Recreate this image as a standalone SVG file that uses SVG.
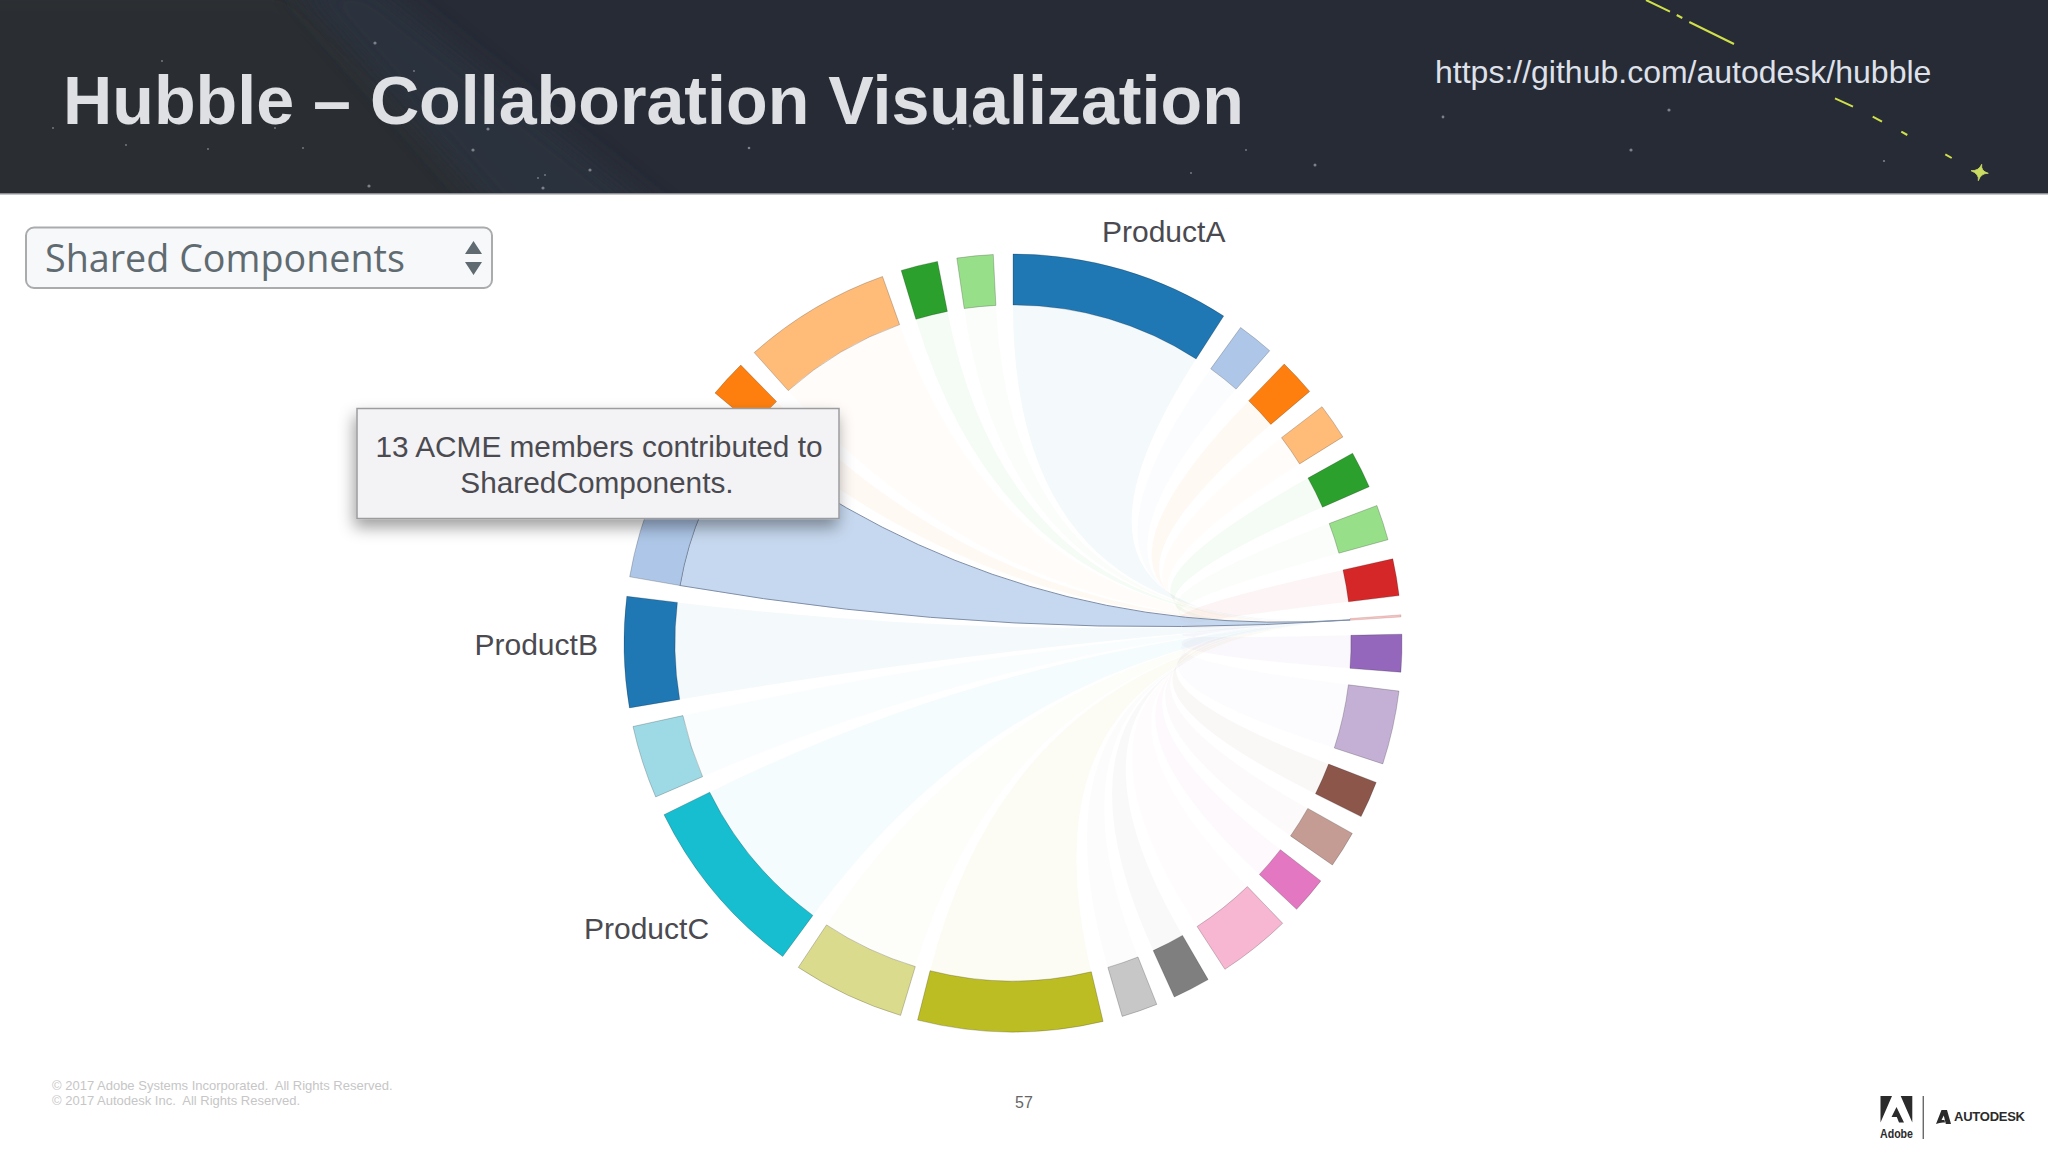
<svg xmlns="http://www.w3.org/2000/svg" width="2048" height="1152" viewBox="0 0 2048 1152">
<style>
text{font-family:"Liberation Sans",Arial,sans-serif}
.lbl{font-size:30px;fill:#4a4a50}
.tip{font-size:29.8px;fill:#4a4a50;text-anchor:middle}
.foot{font-size:13px;fill:#c6c6c6;white-space:pre}
.seg path{stroke:#000;stroke-opacity:.2;stroke-width:1}
.star{fill:#7d818a}
.dash{stroke:#cfe04a;stroke-width:2;fill:none}
#ribbons path{fill-opacity:.048;stroke:none}
#ribbons path.hi{fill-opacity:.7;stroke:#7f8fa8;stroke-width:1}
.c0{fill:#1f77b4}.c1{fill:#aec7e8}.c2{fill:#ff7f0e}.c3{fill:#ffbb78}.c4{fill:#2ca02c}.c5{fill:#98df8a}.c6{fill:#d62728}.c7{fill:#ff9896}.c8{fill:#9467bd}.c9{fill:#c5b0d5}.c10{fill:#8c564b}.c11{fill:#c49c94}.c12{fill:#e377c2}.c13{fill:#f7b6d2}.c14{fill:#7f7f7f}.c15{fill:#c7c7c7}.c16{fill:#bcbd22}.c17{fill:#dbdb8d}.c18{fill:#17becf}.c19{fill:#9edae5}
</style>
<defs>
<filter id="soft" x="-30%" y="-30%" width="160%" height="160%"><feGaussianBlur stdDeviation="14"/></filter>
<filter id="shadow" x="-10%" y="-20%" width="120%" height="150%"><feDropShadow dx="-2" dy="8" stdDeviation="8" flood-color="#000" flood-opacity=".38"/></filter>
<clipPath id="hdr"><rect width="2048" height="193"/></clipPath>
</defs>
<rect width="2048" height="1152" fill="#fff"/>
<g id="header">
<rect width="2048" height="193" fill="#272b35"/>
<rect x="0" y="193" width="2048" height="1.5" fill="#8b8d92"/>
<g clip-path="url(#hdr)">
<polygon points="-40,-20 290,-20 560,230 -40,230" fill="#2b2e33" filter="url(#soft)"/>
<polygon points="290,-20 370,-20 680,230 510,230" fill="#2c323d" filter="url(#soft)"/>
</g>
<g class="star">
<circle cx="375" cy="43" r="1.6"/><circle cx="488" cy="129" r="1.6"/><circle cx="473" cy="150" r="1.6"/><circle cx="369" cy="186" r="1.6"/><circle cx="590" cy="170" r="1.6"/><circle cx="543" cy="188" r="1.6"/>
<circle cx="162" cy="61" r=".9"/><circle cx="53" cy="128" r=".9"/><circle cx="126" cy="145" r=".9"/><circle cx="208" cy="149" r=".9"/><circle cx="303" cy="148" r=".9"/><circle cx="538" cy="178" r=".9"/><circle cx="545" cy="175" r=".9"/><circle cx="275" cy="128" r=".9"/><circle cx="414" cy="71" r=".9"/>
<circle cx="749" cy="148" r="1.3"/><circle cx="970" cy="126" r="1.4"/><circle cx="953" cy="129" r=".9"/><circle cx="1246" cy="150" r=".9"/><circle cx="1315" cy="165" r="1.5"/><circle cx="1191" cy="173" r=".9"/><circle cx="1443" cy="117" r="1.4"/><circle cx="1669" cy="110" r="1.6"/><circle cx="1631" cy="150" r="1.6"/><circle cx="1884" cy="161" r="1.1"/>
</g>
<g class="dash">
<path d="M1646 0L1670 11.7M1676.7 15L1682.3 18M1689.3 22L1734 44M1835 98.3L1853 106.7M1872.7 116.7L1882 121.7M1901.3 131.7L1907.3 135M1945.3 154.3L1951.7 158"/>
</g>
<path id="spark" d="M1981.700 164.300Q1980.500 171 1988.300 173.300Q1981 173 1978.300 180.700Q1979.500 174 1971 170.700Q1979 171 1981.700 164.300Z" fill="#cbdc62" stroke="#cbdc62" stroke-width=".8"/>
<text x="63" y="124" font-size="68.2" font-weight="700" fill="#dfe0e3">Hubble – Collaboration Visualization</text>
<text x="1435" y="83" font-size="32" fill="#dfe1ea">https://github.com/autodesk/hubble</text>
</g>

<g id="select">
<rect x="26" y="227.500" width="466" height="60.500" rx="8" fill="#f7f8fa" stroke="#a9abad" stroke-width="2"/>
<text x="45" y="272" font-size="37.700" fill="#5f6b70" style="font-family:'Open Sans',sans-serif">Shared Components</text>
<path d="M473.500 241L482 254H465ZM473.500 275L482 262H465Z" fill="#5f6b70"/>
</g>

<g id="ribbons">
<path class="c0" d="M1013 305A338 338 0 0 1 1196.100 358.900Q1013 643 1350 618.500L1350 618.710Q1013 643 1013 305Z"/>
<path class="c1" d="M1210.700 368.800A338 338 0 0 1 1236.100 389.100Q1013 643 1350 618.710L1350 618.740Q1013 643 1210.700 368.800Z"/>
<path class="c2" d="M1248.700 400.700A338 338 0 0 1 1270.800 424.400Q1013 643 1350 618.740L1350 618.780Q1013 643 1248.700 400.700Z"/>
<path class="c3" d="M1281.500 437.700A338 338 0 0 1 1299.600 463.900Q1013 643 1350 618.780L1350 618.810Q1013 643 1281.500 437.700Z"/>
<path class="c4" d="M1308 478.100A338 338 0 0 1 1322.500 507.200Q1013 643 1350 618.810L1350 618.850Q1013 643 1308 478.100Z"/>
<path class="c5" d="M1329.200 523.500A338 338 0 0 1 1338.900 553.200Q1013 643 1350 618.850L1350 618.880Q1013 643 1329.200 523.500Z"/>
<path class="c6" d="M1343 569.900A338 338 0 0 1 1348.500 601.800Q1013 643 1350 618.880L1350 618.920Q1013 643 1343 569.900Z"/>
<path class="c8" d="M1350.900 635.300A338 338 0 0 1 1350 668.300Q1013 643 1350 618.920L1350 618.950Q1013 643 1350.900 635.300Z"/>
<path class="c9" d="M1348.400 684.800A338 338 0 0 1 1334.300 748Q1013 643 1350 618.950L1350 619.020Q1013 643 1348.400 684.800Z"/>
<path class="c10" d="M1328.600 764.100A338 338 0 0 1 1315.500 793.800Q1013 643 1350 619.020L1350 619.050Q1013 643 1328.600 764.100Z"/>
<path class="c11" d="M1307.800 808.400A338 338 0 0 1 1290.500 835.900Q1013 643 1350 619.050L1350 619.090Q1013 643 1307.800 808.400Z"/>
<path class="c12" d="M1280.400 849.700A338 338 0 0 1 1259.400 874.400Q1013 643 1350 619.090L1350 619.120Q1013 643 1280.400 849.700Z"/>
<path class="c13" d="M1247.400 886.600A338 338 0 0 1 1197.100 926.500Q1013 643 1350 619.120L1350 619.190Q1013 643 1247.400 886.600Z"/>
<path class="c14" d="M1182.500 935.400A338 338 0 0 1 1153.200 950.600Q1013 643 1350 619.190L1350 619.230Q1013 643 1182.500 935.400Z"/>
<path class="c15" d="M1138 957A338 338 0 0 1 1107.900 967.400Q1013 643 1350 619.230L1350 619.260Q1013 643 1138 957Z"/>
<path class="c16" d="M1091.300 971.800A338 338 0 0 1 930.100 970.700Q1013 643 1350 619.260L1350 619.430Q1013 643 1091.300 971.800Z"/>
<path class="c17" d="M915.300 966.600A338 338 0 0 1 826.500 924.900Q1013 643 1350 619.430L1350 619.540Q1013 643 915.300 966.600Z"/>
<path class="c18" d="M812.900 915.400A338 338 0 0 1 709.700 792.200Q1013 643 1350 619.540L1350 619.710Q1013 643 812.900 915.400Z"/>
<path class="c19" d="M702.600 776.700A338 338 0 0 1 682.900 715.600Q1013 643 1350 619.710L1350 619.780Q1013 643 702.600 776.700Z"/>
<path class="c0" d="M679.700 699.400A338 338 0 0 1 677.400 602.400Q1013 643 1350 619.780L1350 619.880Q1013 643 679.700 699.400Z"/>
<path class="c2" d="M754.100 425.700A338 338 0 0 1 776.500 401.500Q1013 643 1350 620.060L1350 620.090Q1013 643 754.100 425.700Z"/>
<path class="c3" d="M788.200 390.600A338 338 0 0 1 899.600 324.600Q1013 643 1350 620.090L1350 620.230Q1013 643 788.200 390.600Z"/>
<path class="c4" d="M915.900 319.300A338 338 0 0 1 947.400 311.400Q1013 643 1350 620.230L1350 620.260Q1013 643 915.900 319.300Z"/>
<path class="c5" d="M964.200 308.500A338 338 0 0 1 995.900 305.400Q1013 643 1350 620.260L1350 620.300Q1013 643 964.200 308.500Z"/>
<path class="c1 hi" d="M680 585.500A338 338 0 0 1 743 439.600Q1013 643 1350 619.880L1350 620.060Q1013 643 680 585.500Z"/>
</g>

<g id="seg-a" class="seg"><path class="c0" d="M1013 254A389 389 0 0 1 1223.700 316L1196.100 358.900A338 338 0 0 0 1013 305Z"/></g>
<g id="seg-1" class="seg"><path class="c1" d="M1240.600 327.500A389 389 0 0 1 1269.700 350.700L1236.100 389.100A338 338 0 0 0 1210.700 368.800Z"/></g>
<g id="seg-2" class="seg"><path class="c2" d="M1284.200 364.100A389 389 0 0 1 1309.700 391.400L1270.800 424.400A338 338 0 0 0 1248.700 400.700Z"/></g>
<g id="seg-3" class="seg"><path class="c3" d="M1322 406.700A389 389 0 0 1 1342.900 436.900L1299.600 463.900A338 338 0 0 0 1281.500 437.700Z"/></g>
<g id="seg-4" class="seg"><path class="c4" d="M1352.600 453.200A389 389 0 0 1 1369.200 486.700L1322.500 507.200A338 338 0 0 0 1308 478.100Z"/></g>
<g id="seg-5" class="seg"><path class="c5" d="M1376.900 505.500A389 389 0 0 1 1388 539.700L1338.900 553.200A338 338 0 0 0 1329.200 523.500Z"/></g>
<g id="seg-6" class="seg"><path class="c6" d="M1392.800 558.800A389 389 0 0 1 1399.100 595.600L1348.500 601.800A338 338 0 0 0 1343 569.900Z"/></g>
<g id="seg-acme" class="seg" opacity=".6"><path class="c7" d="M1401 614.800L1401 616.900L1350 620.300L1350 618.500Z"/></g>
<g id="seg-8" class="seg"><path class="c8" d="M1401.900 634.200A389 389 0 0 1 1400.900 672.200L1350 668.300A338 338 0 0 0 1350.900 635.300Z"/></g>
<g id="seg-9" class="seg"><path class="c9" d="M1399 691.100A389 389 0 0 1 1382.800 763.900L1334.300 748A338 338 0 0 0 1348.400 684.800Z"/></g>
<g id="seg-10" class="seg"><path class="c10" d="M1376.200 782.400A389 389 0 0 1 1361.100 816.600L1315.500 793.800A338 338 0 0 0 1328.600 764.100Z"/></g>
<g id="seg-11" class="seg"><path class="c11" d="M1352.300 833.400A389 389 0 0 1 1332.400 865L1290.500 835.900A338 338 0 0 0 1307.800 808.400Z"/></g>
<g id="seg-12" class="seg"><path class="c12" d="M1320.800 880.900A389 389 0 0 1 1296.600 909.300L1259.400 874.400A338 338 0 0 0 1280.400 849.700Z"/></g>
<g id="seg-13" class="seg"><path class="c13" d="M1282.700 923.300A389 389 0 0 1 1224.900 969.300L1197.100 926.500A338 338 0 0 0 1247.400 886.600Z"/></g>
<g id="seg-14" class="seg"><path class="c14" d="M1208.100 979.600A389 389 0 0 1 1174.300 997L1153.200 950.600A338 338 0 0 0 1182.500 935.400Z"/></g>
<g id="seg-15" class="seg"><path class="c15" d="M1156.800 1004.400A389 389 0 0 1 1122.200 1016.400L1107.900 967.400A338 338 0 0 0 1138 957Z"/></g>
<g id="seg-16" class="seg"><path class="c16" d="M1103.100 1021.400A389 389 0 0 1 917.600 1020.100L930.100 970.700A338 338 0 0 0 1091.300 971.800Z"/></g>
<g id="seg-17" class="seg"><path class="c17" d="M900.600 1015.400A389 389 0 0 1 798.300 967.400L826.500 924.900A338 338 0 0 0 915.300 966.600Z"/></g>
<g id="seg-c" class="seg"><path class="c18" d="M782.700 956.500A389 389 0 0 1 664 814.700L709.700 792.200A338 338 0 0 0 812.900 915.400Z"/></g>
<g id="seg-19" class="seg"><path class="c19" d="M655.700 796.900A389 389 0 0 1 633 726.500L682.900 715.600A338 338 0 0 0 702.600 776.700Z"/></g>
<g id="seg-b" class="seg"><path class="c0" d="M629.400 707.900A389 389 0 0 1 626.800 596.300L677.400 602.400A338 338 0 0 0 679.700 699.400Z"/></g>
<g id="seg-21" class="seg"><path class="c1" d="M629.700 576.800A389 389 0 0 1 702.300 408.900L743 439.600A338 338 0 0 0 680 585.500Z"/></g>
<g id="seg-22" class="seg"><path class="c2" d="M715 393A389 389 0 0 1 740.800 365.100L776.500 401.500A338 338 0 0 0 754.100 425.700Z"/></g>
<g id="seg-23" class="seg"><path class="c3" d="M754.200 352.600A389 389 0 0 1 882.500 276.500L899.600 324.600A338 338 0 0 0 788.200 390.600Z"/></g>
<g id="seg-24" class="seg"><path class="c4" d="M901.200 270.400A389 389 0 0 1 937.500 261.400L947.400 311.400A338 338 0 0 0 915.900 319.300Z"/></g>
<g id="seg-25" class="seg"><path class="c5" d="M956.800 258.100A389 389 0 0 1 993.300 254.500L995.900 305.400A338 338 0 0 0 964.200 308.500Z"/></g>

<g id="labels">
<text class="lbl" x="1102" y="241.500">ProductA</text>
<text class="lbl" x="474.500" y="655">ProductB</text>
<text class="lbl" x="584" y="939">ProductC</text>
</g>

<g id="tooltip">
<rect x="357" y="408.500" width="482" height="110" fill="#f3f2f5" stroke="#9c9c9e" stroke-width="1.500" filter="url(#shadow)"/>
<text class="tip" x="599" y="456.500">13 ACME members contributed to</text>
<text class="tip" x="597" y="493">SharedComponents.</text>
</g>

<g id="footer">
<text class="foot" x="52" y="1090">© 2017 Adobe Systems Incorporated.  All Rights Reserved.</text>
<text class="foot" x="52" y="1105">© 2017 Autodesk Inc.  All Rights Reserved.</text>
<text x="1024" y="1107.500" font-size="16" fill="#666" text-anchor="middle">57</text>
</g>

<g id="logos" fill="#2b2b2b">
<path d="M1880.500 1096H1892L1880.500 1122.500ZM1900.700 1096H1912.300V1122.500ZM1896.500 1107L1904 1122.500H1899L1896.800 1117H1891.500Z"/>
<text x="1880" y="1138" font-size="13" font-weight="700" textLength="33" lengthAdjust="spacingAndGlyphs">Adobe</text>
<rect x="1922.700" y="1096" width="1" height="43"/>
<path d="M1936 1124L1941.500 1110H1947L1951 1124H1945.800L1943.800 1115.500L1941.500 1120H1944.500L1945 1122.500Q1940 1122 1936 1124Z"/>
<text x="1954" y="1121" font-size="13" font-weight="700" textLength="71" lengthAdjust="spacing">AUTODESK</text>
</g>
</svg>
